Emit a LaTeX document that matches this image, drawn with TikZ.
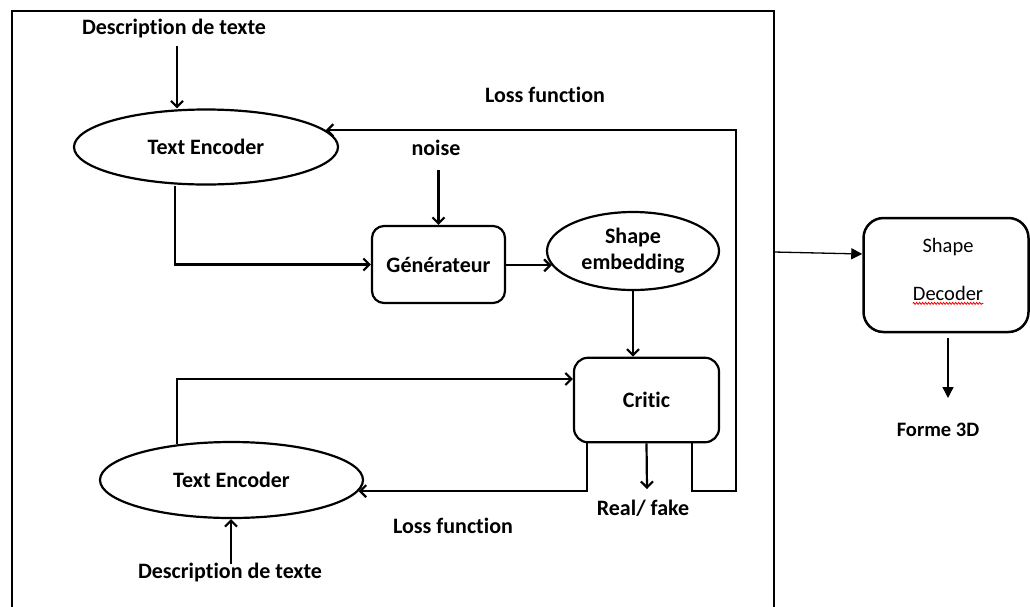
\documentclass[tikz,border=0pt]{standalone}
\usepackage{fontspec}
\setmainfont{Carlito}[Ligatures=NoCommon]
\usetikzlibrary{arrows.meta,shapes.geometric,decorations.pathmorphing}
\begin{document}
\begin{tikzpicture}[x=1pt,y=-1pt,
  lbl/.style={font=\fontsize{22}{26}\selectfont\bfseries, inner sep=0pt},
  rlbl/.style={font=\fontsize{20.5}{24}\selectfont, inner sep=0pt},
  ell/.style={draw, ellipse, line width=2.2pt, inner sep=0pt, align=center, font=\fontsize{22}{26}\selectfont\bfseries},
  rbox/.style={draw, rounded corners=12pt, line width=2.2pt, inner sep=0pt, font=\fontsize{22}{26}\selectfont\bfseries},
  conn/.style={line width=2.2pt, -{Straight Barb[length=6pt,width=12pt]}},
  thinarrow/.style={line width=1.3pt, -{Triangle[length=11pt,width=11pt]}}
]
\useasboundingbox (0,0) rectangle (1030,606);
% outer frame
\draw[line width=2.2pt] (12,630) -- (12,11) -- (774,11) -- (774,630);

% nodes
\node[lbl] (desc1) at (174,29) {Description de texte};
\node[ell, minimum width=264pt, minimum height=75pt] (te1) at (206,147) {Text Encoder};
\node[lbl] (loss1) at (545,95) {Loss function};
\node[lbl] (noise) at (436,148) {noise};
\node[rbox, minimum width=133pt, minimum height=77pt] (gen) at (438.5,264.5) {Générateur};
\node[ell, minimum width=172pt, minimum height=78pt] (se) at (633,251) {Shape\\embedding};
\node[rbox, rounded corners=14pt, minimum width=145pt, minimum height=84.5pt] (critic) at (646.5,400) {Critic};
\node[ell, minimum width=263pt, minimum height=76pt] (te2) at (231.5,480) {Text Encoder};
\node[lbl] (rf) at (643,508) {Real/ fake};
\node[lbl] (loss2) at (453,526) {Loss function};
\node[lbl] (desc2) at (230,572) {Description de texte};

\node[draw, line width=2.5pt, rounded corners=20pt, minimum width=165pt, minimum height=114pt] (dec) at (946,275) {};
\node[rlbl] (shape) at (948,247) {Shape};
\node[rlbl] (decoder) at (948,293) {Decoder};
\node[rlbl, font=\fontsize{20.5}{24}\selectfont\bfseries] (forme) at (938,430) {Forme 3D};

% free ends
\coordinate (d1s) at (177,46);
\coordinate (nzs) at (438.5,170);
\coordinate (rft) at (647,489);
\coordinate (d2n) at (231,564);
\coordinate (loopR) at (736,491);
\coordinate (frameR) at (774,252);
\coordinate (formeT) at (948,398);

% connectors
\draw[conn] (d1s) -- (d1s |- te1.north);
\draw[conn] ([xshift=-31pt]te1.south) |- (gen.west);
\draw[conn] (nzs) -- (gen.north);
\draw[conn] (gen.east |- se.190) -- (se.190);
\draw[conn] (se.south) -- (se.south |- critic.north);
\draw[conn] (te2.147.6) |- ([yshift=21pt]critic.west);
\draw[conn] ([xshift=-59.5pt]critic.south) |- (te2.-5);
\draw[conn] (critic.south) -- (rft);
\draw[conn] ([xshift=45.5pt]critic.south) |- (loopR) |- (te1.8.5);
\draw[conn] (d2n) -- (d2n |- te2.south);

\draw[thinarrow] (frameR) -- ([yshift=21pt]dec.west);
\draw[thinarrow] ([xshift=2pt,yshift=-5pt]dec.south) -- (formeT);

% spell-check underline
\draw[red, line width=0.8pt, decorate, decoration={snake, amplitude=1pt, segment length=3pt}]
  ([yshift=-3pt]decoder.south west) -- ([yshift=-3pt]decoder.south east);
\end{tikzpicture}
\end{document}
